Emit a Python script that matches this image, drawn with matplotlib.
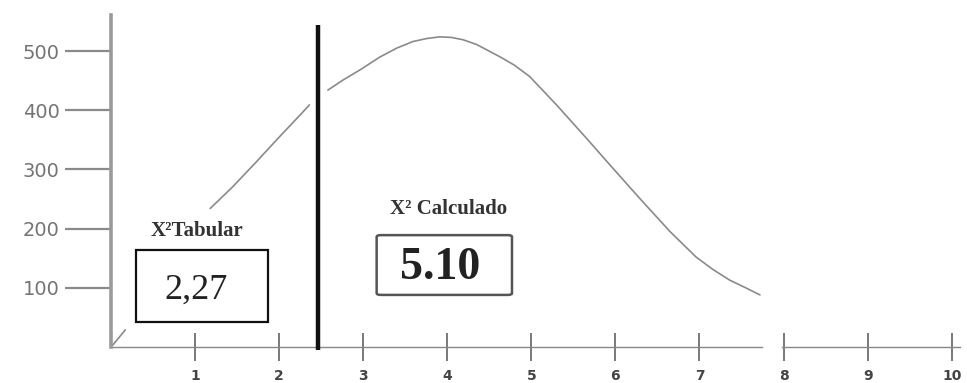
import matplotlib
matplotlib.use("Agg")
import matplotlib.pyplot as plt
from matplotlib.patches import Rectangle, FancyBboxPatch

# Data
left_x = [1.18, 1.45, 1.73, 2.01, 2.25, 2.36]
left_y = [234, 271, 313, 356, 392, 409]
right_x = [2.58, 2.76, 2.96, 3.20, 3.40, 3.59, 3.75, 3.91, 4.05, 4.19, 4.35, 4.51, 4.63, 4.80, 4.98,
           5.30, 5.66, 5.97, 6.29, 6.65, 6.96, 7.16, 7.36, 7.55, 7.72]
right_y = [434, 451, 468, 490, 505, 516, 521, 524, 523, 519, 511, 499, 490, 476, 457,
           409, 352, 302, 251, 195, 152, 131, 113, 100, 88]
origin_x = [0.02, 0.17]
origin_y = [3, 29]
critical_x = 2.46
x_ticks = [1, 2, 3, 4, 5, 6, 7, 8, 9, 10]
y_ticks = [100, 200, 300, 400, 500]
tabular_value = "2,27"
calculado_value = "5.10"

fig = plt.figure(figsize=(9.67, 3.83), dpi=100)
ax = fig.add_axes([0.1148, 0.094, 0.878, 0.867])
ax.set_xlim(0, 10.1)
ax.set_ylim(0, 561)

curve_kw = dict(color="#8a8a8a", lw=1.2, solid_capstyle="round", solid_joinstyle="round", clip_on=False)
ax.plot(left_x, left_y, **curve_kw)
ax.plot(right_x, right_y, **curve_kw)
ax.plot(origin_x, origin_y, **curve_kw)

# critical value line
ax.vlines(critical_x, -5, 544, colors="#111111", lw=3.2, clip_on=False, zorder=5)

# spines
for s in ["top", "right", "bottom"]:
    ax.spines[s].set_visible(False)
ax.spines["left"].set_color("#9a9a9a")
ax.spines["left"].set_linewidth(2.6)

# broken x axis line
ax.plot([0, 7.75], [0, 0], color="#888888", lw=1.0, clip_on=False)
ax.plot([7.98, 10.1], [0, 0], color="#888888", lw=1.0, clip_on=False)

ax.set_yticks(y_ticks)
ax.set_yticklabels([str(v) for v in y_ticks])
ax.tick_params(axis="y", direction="out", length=33, width=1.6, colors="#8a8a8a",
               labelsize=14, labelcolor="#747474", pad=4)
ax.set_xticks(x_ticks)
ax.set_xticklabels([str(v) for v in x_ticks])
ax.tick_params(axis="x", direction="inout", length=20, width=1.1, colors="#555555",
               labelsize=10, labelcolor="#444444", pad=6)
for lab in ax.get_xticklabels():
    lab.set_fontweight("bold")

serif = ["Liberation Serif", "DejaVu Serif"]

# Tabular box
ax.add_patch(Rectangle((0.30, 42), 1.57, 122, fill=False, edgecolor="#111111", lw=1.6, clip_on=False))
ax.text(1.01, 96, tabular_value, ha="center", va="center", fontsize=26, family=serif, color="#222222")
ax.text(1.02, 196, "X²Tabular", ha="center", va="center", fontsize=15, family=serif,
        fontweight="bold", color="#333333")

# Calculado box
ax.add_patch(FancyBboxPatch((3.16, 88), 1.61, 101, boxstyle="round,pad=0,rounding_size=0.05",
                            fill=False, edgecolor="#555555", lw=1.8, clip_on=False,
                            mutation_aspect=60))
ax.text(3.92, 133, calculado_value, ha="center", va="center", fontsize=33, family=serif,
        fontweight="bold", color="#222222")
ax.text(4.01, 233, "X² Calculado", ha="center", va="center", fontsize=15, family=serif,
        fontweight="bold", color="#333333")

fig.savefig("out.png", dpi=100)
